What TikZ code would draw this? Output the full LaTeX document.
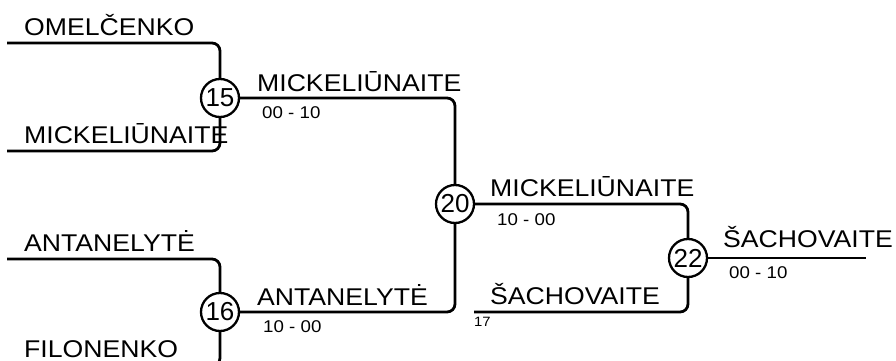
\documentclass[tikz,border=0pt]{standalone}
\usepackage{fontspec}
\setmainfont[FakeStretch=1.1]{Liberation Sans}
\newfontfamily\numfont{Liberation Sans}
\begin{document}
\begin{tikzpicture}[x=1pt,y=-1pt,
  wire/.style={line width=2.8pt,rounded corners=8pt},
  matchbox/.style={draw,circle,line width=2.3pt,minimum size=38pt,inner sep=0pt,
    font=\numfont\fontsize{26}{28}\selectfont},
  pname/.style={anchor=base west,inner sep=0pt,font=\fontsize{24.2}{28}\selectfont},
  scoretxt/.style={anchor=base west,inner sep=0pt,font=\fontsize{17}{19}\selectfont},
  seedtxt/.style={anchor=base west,inner sep=0pt,font=\fontsize{13.5}{15}\selectfont}]
\clip (0,0) rectangle (896,361);
% match circles
\node[matchbox] (m15) at (220,98) {15};
\node[matchbox] (m16) at (220,312) {16};
\node[matchbox] (m20) at (455,204) {20};
\node[matchbox] (m22) at (688,258) {22};
% entry points
\coordinate (e1) at (7,43);
\coordinate (e2) at (7,151);
\coordinate (e3) at (7,259);
\coordinate (e4) at (7,366);
\coordinate (e5) at (474,312);
\coordinate (w) at (866,258);
% connectors
\draw[wire] (e1) -| (m15);
\draw[wire] (e2) -| (m15);
\draw[wire] (e3) -| (m16);
\draw[wire] (e4) -| (m16);
\draw[wire] (m15) -| (m20);
\draw[wire] (m16) -| (m20);
\draw[wire] (m20) -| (m22);
\draw[wire] (e5) -| (m22);
\draw[wire] (m22) -- (w);
% names
\node[pname] (n1) at (24,36) {OMELČENKO};
\node[pname] (n2) at (24,143) {MICKELIŪNAITE};
\node[pname] (n3) at (24,251) {ANTANELYTĖ};
\node[pname] (n4) at (24,357) {FILONENKO};
\node[pname] (n5) at (257,91) {MICKELIŪNAITE};
\node[pname] (n6) at (257,305) {ANTANELYTĖ};
\node[pname] (n7) at (490,196) {MICKELIŪNAITE};
\node[pname] (n8) at (490,304) {ŠACHOVAITE};
\node[pname] (n9) at (723,247) {ŠACHOVAITE};
% scores
\node[scoretxt] (s1) at (262,118) {00 - 10};
\node[scoretxt] (s2) at (263,332) {10 - 00};
\node[scoretxt] (s3) at (497,225) {10 - 00};
\node[scoretxt] (s4) at (729,278) {00 - 10};
\node[seedtxt] (s5) at (474,326) {17};
\end{tikzpicture}
\end{document}
